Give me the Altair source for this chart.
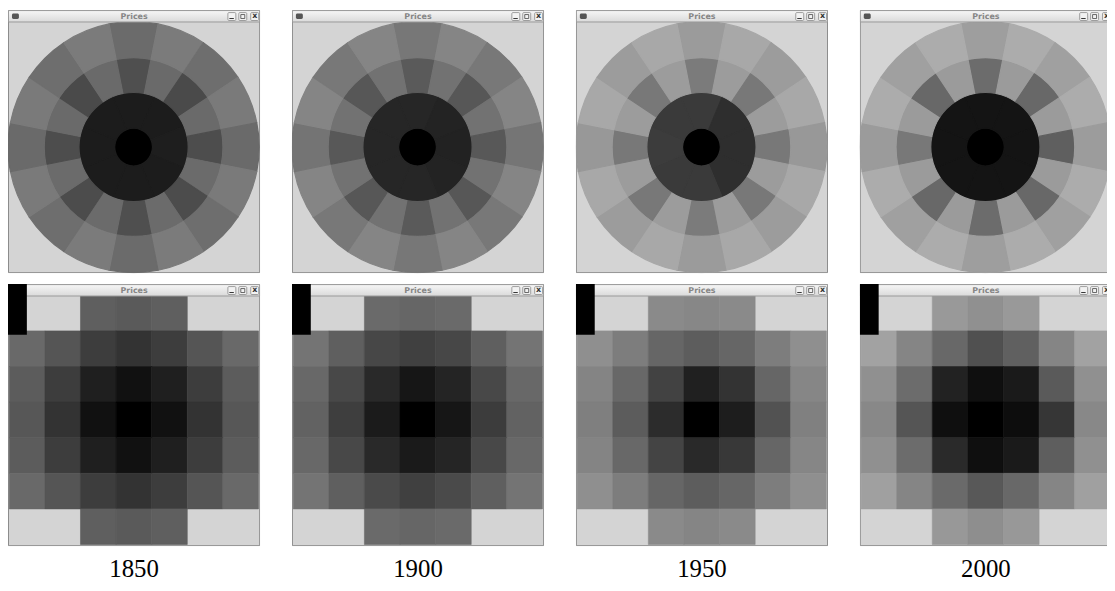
import math
import altair as alt
import pandas as pd

years = ["1850", "1900", "1950", "2000"]

# ---- polar "Prices" windows: grey level (0 = black, 255 = white) ----
# centre disc, inner ring (8 sectors), middle ring (16), outer ring (16); clockwise from top
center_gray = [0, 0, 0, 0]
inner_gray = [
    [28, 28, 30, 28, 28, 28, 28, 28],
    [38, 35, 34, 35, 38, 38, 38, 38],
    [58, 46, 46, 46, 58, 58, 60, 58],
    [20, 20, 20, 20, 20, 20, 20, 20],
]
mid_gray = [
    [79, 106, 74, 106, 77, 107, 76, 107, 79, 107, 76, 107, 77, 106, 74, 106],
    [90, 114, 87, 114, 88, 114, 87, 114, 90, 114, 87, 114, 88, 114, 87, 114],
    [123, 156, 120, 156, 120, 156, 120, 156, 123, 156, 120, 156, 120, 156, 120, 156],
    [108, 155, 104, 155, 95, 155, 104, 155, 108, 155, 104, 155, 120, 155, 104, 155],
]
outer_gray = [
    [107, 123, 110, 122, 106, 122, 110, 123, 107, 123, 110, 122, 106, 122, 110, 123],
    [119, 133, 120, 133, 117, 133, 120, 133, 119, 133, 120, 133, 116, 133, 120, 133],
    [155, 168, 156, 168, 152, 168, 156, 168, 155, 168, 156, 168, 152, 168, 156, 168],
    [158, 172, 160, 172, 156, 172, 160, 172, 158, 172, 160, 172, 155, 172, 160, 172],
]

# ---- 7x7 grid windows (None = empty cell) ----
grid_gray = [
    [
        [None, None, 95, 90, 95, None, None],
        [105, 85, 61, 51, 61, 85, 105],
        [92, 61, 31, 17, 31, 61, 92],
        [87, 51, 17, 0, 17, 51, 87],
        [92, 61, 31, 17, 31, 61, 92],
        [105, 85, 61, 51, 61, 85, 105],
        [None, None, 95, 90, 95, None, None],
    ],
    [
        [None, None, 106, 102, 106, None, None],
        [116, 95, 71, 64, 71, 95, 116],
        [104, 72, 41, 22, 36, 72, 104],
        [98, 62, 27, 0, 22, 60, 98],
        [104, 72, 41, 26, 37, 72, 104],
        [116, 95, 74, 64, 74, 95, 116],
        [None, None, 106, 102, 106, None, None],
    ],
    [
        [None, None, 138, 135, 138, None, None],
        [143, 125, 102, 93, 102, 125, 143],
        [132, 104, 66, 32, 51, 102, 134],
        [127, 92, 44, 0, 29, 82, 128],
        [132, 104, 68, 41, 56, 102, 134],
        [143, 125, 102, 93, 102, 125, 143],
        [None, None, 138, 133, 138, None, None],
    ],
    [
        [None, None, 153, 144, 153, None, None],
        [162, 133, 104, 80, 96, 133, 162],
        [144, 108, 34, 15, 26, 90, 144],
        [136, 85, 15, 0, 13, 54, 136],
        [144, 108, 42, 15, 26, 94, 144],
        [160, 133, 106, 88, 104, 133, 160],
        [None, None, 152, 142, 152, None, None],
    ],
]

WIN_W = 254
TOP_H = 265
BOT_H = 264
BAR_H = 12

gray_scale = alt.Scale(type="linear", domain=[0, 255], range=["#000000", "#ffffff"],
                       interpolate="rgb", nice=False, zero=False)
one = alt.Data(values=[{"a": 1}])


def chrome_under(h):
    return alt.Chart(one).mark_rect(fill="#d4d4d4", stroke="#8a8a8a", strokeWidth=1, clip=True).encode(
        x=alt.value(0.5), x2=alt.value(WIN_W - 0.5), y=alt.value(0.5), y2=alt.value(h - 0.5))


def chrome_over(black_block=False):
    base = alt.Chart(one)
    bar = base.mark_rect(
        clip=True,
        fill=alt.LinearGradient(gradient="linear",
                                stops=[alt.GradientStop(color="#f6f6f6", offset=0),
                                       alt.GradientStop(color="#dadada", offset=1)],
                                x1=0, x2=0, y1=0, y2=1),
        stroke="#9a9a9a", strokeWidth=1,
    ).encode(x=alt.value(0.5), x2=alt.value(WIN_W - 0.5), y=alt.value(0.5), y2=alt.value(BAR_H))
    title = base.mark_text(text="Prices", font="DejaVu Sans", fontSize=8, fontWeight="bold",
                           color="#858585", align="center", baseline="middle", clip=True).encode(
        x=alt.value(WIN_W / 2), y=alt.value(6.5))
    icon = base.mark_rect(fill="#555555", cornerRadius=1.5, clip=True).encode(
        x=alt.value(4), x2=alt.value(11), y=alt.value(3.5), y2=alt.value(9))
    layers = [bar, title, icon]
    for bx in [221, 232, 244]:
        layers.append(base.mark_rect(fill="#f2f2f2", stroke="#8a8a8a", strokeWidth=0.8,
                                     cornerRadius=1, clip=True).encode(
            x=alt.value(bx + 0.5), x2=alt.value(bx + 8.5), y=alt.value(2.5), y2=alt.value(10.5)))
    layers.append(base.mark_rule(color="#333333", strokeWidth=1, clip=True).encode(
        x=alt.value(223), x2=alt.value(227.5), y=alt.value(8.5)))
    layers.append(base.mark_rect(fill="#f2f2f2", stroke="#444444", strokeWidth=0.8, clip=True).encode(
        x=alt.value(234.5), x2=alt.value(238.5), y=alt.value(4.5), y2=alt.value(8.5)))
    layers.append(base.mark_text(text="x", font="DejaVu Sans", fontSize=8, fontWeight="bold",
                                 color="#333333", align="center", baseline="middle", clip=True).encode(
        x=alt.value(248.5), y=alt.value(6)))
    if black_block:
        layers.append(base.mark_rect(fill="#000000", clip=True).encode(
            x=alt.value(0), x2=alt.value(19), y=alt.value(0), y2=alt.value(51)))
    return layers


def polar_panel(i, view_w):
    rows = [dict(t0=0, t1=16, r0=0, r1=1, gray=center_gray[i])]
    for k, g in enumerate(inner_gray[i]):
        rows.append(dict(t0=2 * k - 1, t1=2 * k + 1, r0=1, r1=2, gray=g))
    for k, g in enumerate(mid_gray[i]):
        rows.append(dict(t0=k - 0.5, t1=k + 0.5, r0=2, r1=3, gray=g))
    for k, g in enumerate(outer_gray[i]):
        rows.append(dict(t0=k - 0.5, t1=k + 0.5, r0=3, r1=4, gray=g))
    df = pd.DataFrame(rows)
    arcs = alt.Chart(df).mark_arc(clip=True, strokeWidth=1.2, strokeJoin="round").encode(
        x=alt.value(126.5), y=alt.value(138),
        theta=alt.Theta("t0:Q", stack=None,
                        scale=alt.Scale(type="linear", domain=[0, 16], range=[0, 2 * math.pi],
                                        zero=False, nice=False)),
        theta2="t1:Q",
        radius=alt.Radius("r0:Q", scale=alt.Scale(type="linear", domain=[0, 1, 2, 3, 4],
                                                  range=[0, 19, 55, 90, 126.5], zero=False, nice=False)),
        radius2="r1:Q",
        color=alt.Color("gray:Q", scale=gray_scale, legend=None),
        stroke=alt.Stroke("gray:Q", scale=gray_scale, legend=None),
    )
    return alt.layer(chrome_under(TOP_H), arcs, *chrome_over(False)).properties(
        width=view_w, height=TOP_H)


def grid_panel(i, view_w):
    rows = []
    for r, line in enumerate(grid_gray[i]):
        for c, g in enumerate(line):
            if g is not None:
                rows.append(dict(c0=c, c1=c + 1, r0=r, r1=r + 1, gray=g))
    df = pd.DataFrame(rows)
    cells = alt.Chart(df).mark_rect(clip=True, strokeWidth=0.6).encode(
        x=alt.X("c0:Q", axis=None, scale=alt.Scale(domain=[0, 7], range=[1.3, 252.3], nice=False, zero=False)),
        x2="c1:Q",
        y=alt.Y("r0:Q", axis=None, scale=alt.Scale(domain=[0, 7], range=[11.3, 262.3], nice=False, zero=False)),
        y2="r1:Q",
        color=alt.Color("gray:Q", scale=gray_scale, legend=None),
        stroke=alt.Stroke("gray:Q", scale=gray_scale, legend=None),
    )
    label = alt.Chart(one).mark_text(text=years[i], font="Liberation Serif", fontSize=25,
                                     color="#000000", align="center", baseline="middle").encode(
        x=alt.value(WIN_W / 2), y=alt.value(287))
    return alt.layer(chrome_under(BOT_H), cells, *chrome_over(True), label).properties(
        width=view_w, height=BOT_H)


columns = []
for i in range(4):
    vw = WIN_W if i < 3 else 249
    columns.append(alt.vconcat(polar_panel(i, vw), grid_panel(i, vw), spacing=11))

chart = alt.hconcat(*columns, spacing=32).properties(padding=0).configure_view(strokeWidth=0)

chart.save("out.html", embed_options={"renderer": "svg", "actions": False})
